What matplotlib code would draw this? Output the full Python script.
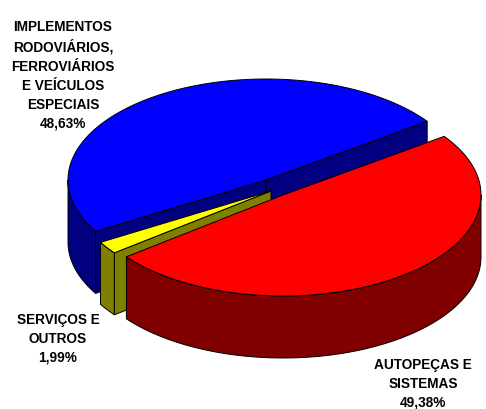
import numpy as np
import matplotlib
matplotlib.use("Agg")
import matplotlib.pyplot as plt
from matplotlib.patches import Polygon

# data
labels = ["IMPLEMENTOS\nRODOVIÁRIOS,\nFERROVIÁRIOS\nE VEÍCULOS\nESPECIAIS",
          "SERVIÇOS E\nOUTROS",
          "AUTOPEÇAS E\nSISTEMAS"]
values = [48.63, 1.99, 49.38]
pct_text = ["48,63%", "1,99%", "49,38%"]

top_colors = ["#0000FF", "#FFFF00", "#FF0000"]
side_colors = ["#000080", "#808000", "#800000"]

# pie geometry (pixel units, y grows downwards)
A, B = 198, 101          # ellipse half axes of the top face
DEPTH = 62               # thickness of the pie
START = 35.5             # start angle in degrees, counter clockwise
centers = [(266, 181), (271, 192), (283, 196)]   # exploded slice centres
label_pos = [(63, 75), (58, 339), (423, 384)]


def pt(c, t):
    r = np.radians(t)
    return c[0] + A * np.cos(r), c[1] - B * np.sin(r)


def arc(c, t1, t2, n=80):
    ts = np.linspace(t1, t2, n)
    return [pt(c, t) for t in ts]


fig = plt.figure(figsize=(4.86, 4.10), dpi=100)
ax = fig.add_axes([0, 0, 1, 1])
ax.set_xlim(0, 486)
ax.set_ylim(410, 0)
ax.axis("off")

lw = 0.7
angles = START + 360 * np.concatenate([[0], np.cumsum(values)]) / sum(values)

for i in range(len(values)):
    c = centers[i]
    t1, t2 = angles[i], angles[i + 1]
    side = side_colors[i]
    # outer wall, front half only
    w1, w2 = max(t1, 180), min(t2, 360)
    if w2 > w1:
        top = arc(c, w1, w2)
        bot = [(x, y + DEPTH) for x, y in top[::-1]]
        ax.add_patch(Polygon(top + bot, closed=True, fc=side, ec="black", lw=lw))
    # radial cut faces that face the viewer
    for t, vis in ((t1, np.cos(np.radians(t1)) > 0), (t2, np.cos(np.radians(t2)) < 0)):
        if vis:
            o = pt(c, t)
            face = [c, o, (o[0], o[1] + DEPTH), (c[0], c[1] + DEPTH)]
            ax.add_patch(Polygon(face, closed=True, fc=side, ec="black", lw=lw))
    # top face
    ax.add_patch(Polygon([c] + arc(c, t1, t2, 200), closed=True,
                         fc=top_colors[i], ec="black", lw=lw))

for i in range(len(values)):
    ax.text(label_pos[i][0], label_pos[i][1], labels[i] + "\n" + pct_text[i],
            ha="center", va="center", ma="center", family="Liberation Sans",
            weight="bold", fontsize=9.8, linespacing=1.45)

fig.savefig("out.png", dpi=100)
